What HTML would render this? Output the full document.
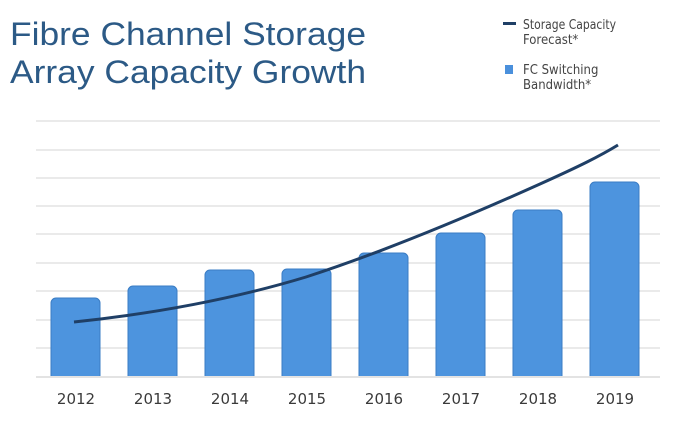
<!DOCTYPE html>
<html><head><style>
body{margin:0;background:#fff;width:686px;height:428px;overflow:hidden;font-family:"Liberation Sans",sans-serif}
</style></head><body>
<svg width="686" height="428" xmlns="http://www.w3.org/2000/svg">
<text x="10" y="45" font-family="Liberation Sans,sans-serif" font-size="32" fill="#2c5a86" textLength="356" lengthAdjust="spacingAndGlyphs">Fibre Channel Storage</text>
<text x="10" y="83" font-family="Liberation Sans,sans-serif" font-size="32" fill="#2c5a86" textLength="356" lengthAdjust="spacingAndGlyphs">Array Capacity Growth</text>
<rect x="503" y="22" width="13" height="3" fill="#1f3f66"/>
<text x="523" y="29" font-family="DejaVu Sans Condensed,DejaVu Sans,sans-serif" font-size="13" fill="#444" textLength="93" lengthAdjust="spacingAndGlyphs">Storage Capacity</text>
<text x="523" y="44" font-family="DejaVu Sans Condensed,DejaVu Sans,sans-serif" font-size="13" fill="#444">Forecast*</text>
<rect x="505" y="65" width="8" height="9" fill="#4a90dc"/>
<text x="523" y="74" font-family="DejaVu Sans Condensed,DejaVu Sans,sans-serif" font-size="13" fill="#444">FC Switching</text>
<text x="523" y="89" font-family="DejaVu Sans Condensed,DejaVu Sans,sans-serif" font-size="13" fill="#444">Bandwidth*</text>
<g stroke="#e3e3e3" stroke-width="1.5">
<line x1="36" x2="660" y1="121" y2="121"/><line x1="36" x2="660" y1="150" y2="150"/>
<line x1="36" x2="660" y1="178" y2="178"/><line x1="36" x2="660" y1="206" y2="206"/>
<line x1="36" x2="660" y1="234" y2="234"/><line x1="36" x2="660" y1="263" y2="263"/>
<line x1="36" x2="660" y1="291" y2="291"/><line x1="36" x2="660" y1="320" y2="320"/>
<line x1="36" x2="660" y1="348" y2="348"/>
</g>
<g fill="#4d94de" stroke="#3a7cc4" stroke-width="1">
<path d="M51,377 V303 a5,5 0 0 1 5,-5 H95 a5,5 0 0 1 5,5 V377Z"/>
<path d="M128,377 V291 a5,5 0 0 1 5,-5 H172 a5,5 0 0 1 5,5 V377Z"/>
<path d="M205,377 V275 a5,5 0 0 1 5,-5 H249 a5,5 0 0 1 5,5 V377Z"/>
<path d="M282,377 V274 a5,5 0 0 1 5,-5 H326 a5,5 0 0 1 5,5 V377Z"/>
<path d="M359,377 V258 a5,5 0 0 1 5,-5 H403 a5,5 0 0 1 5,5 V377Z"/>
<path d="M436,377 V238 a5,5 0 0 1 5,-5 H480 a5,5 0 0 1 5,5 V377Z"/>
<path d="M513,377 V215 a5,5 0 0 1 5,-5 H557 a5,5 0 0 1 5,5 V377Z"/>
<path d="M590,377 V187 a5,5 0 0 1 5,-5 H634 a5,5 0 0 1 5,5 V377Z"/>
</g>
<rect x="36" y="376" width="624" height="2" fill="#e3e3e3"/>
<path d="M74,322 C150,314 230,300 306,277 C383,252 460,220 540,184 C580,166 600,156 618,145" fill="none" stroke="#1f3f66" stroke-width="3"/>
<g font-family="DejaVu Sans,sans-serif" font-size="15" fill="#3a3a3a" text-anchor="middle">
<text x="76" y="404">2012</text><text x="153" y="404">2013</text><text x="230" y="404">2014</text><text x="307" y="404">2015</text>
<text x="384" y="404">2016</text><text x="461" y="404">2017</text><text x="538" y="404">2018</text><text x="615" y="404">2019</text>
</g>
</svg>
</body></html>
